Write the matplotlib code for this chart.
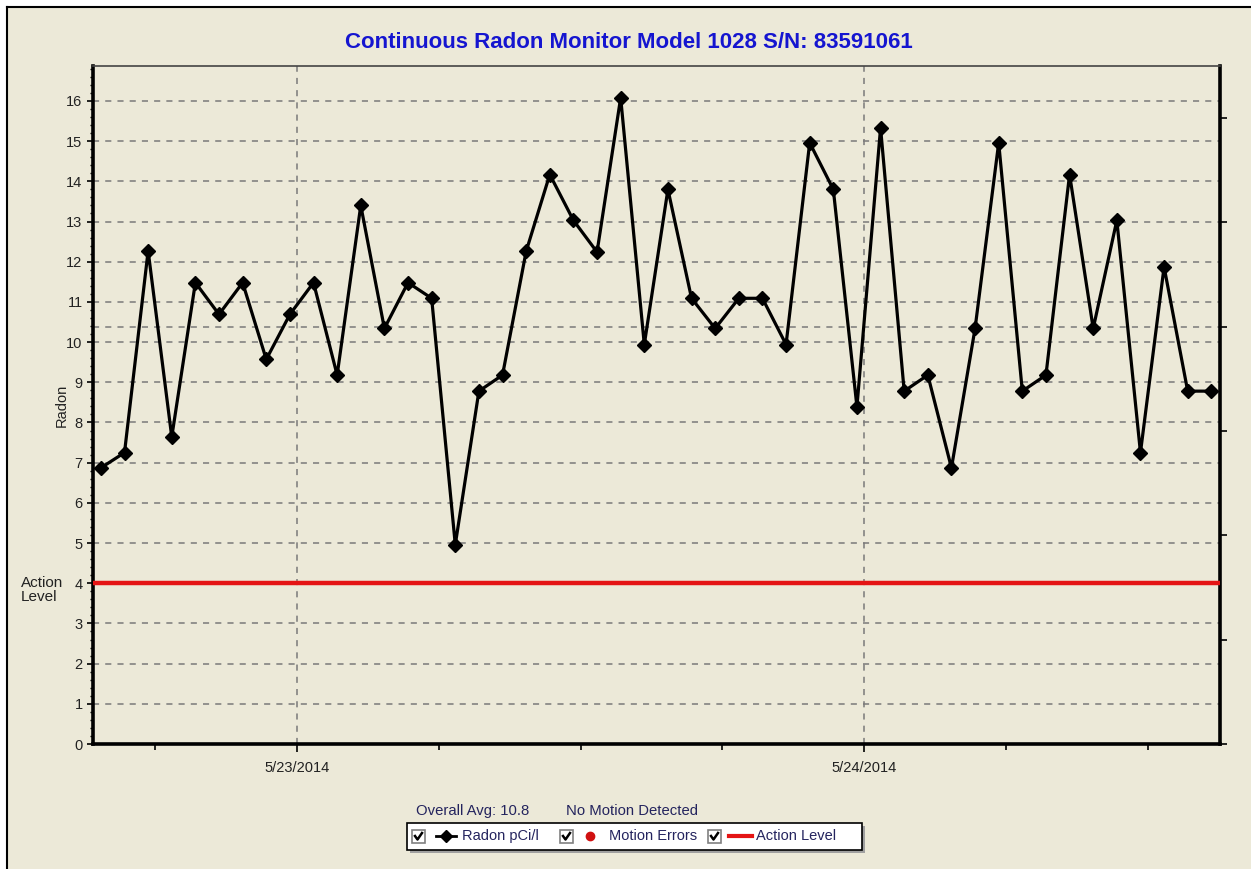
import numpy as np
import pandas as pd
import matplotlib
matplotlib.use("Agg")
import matplotlib.pyplot as plt
import matplotlib.dates as mdates
from matplotlib.patches import Rectangle
from matplotlib.lines import Line2D

plt.rcParams['font.family'] = ['Liberation Sans', 'DejaVu Sans']

# hourly readings, pCi/l
radon = [6.87, 7.25, 12.27, 7.64, 11.48, 10.69, 11.48, 9.57, 10.69, 11.48,
         9.18, 13.40, 10.34, 11.48, 11.09, 4.96, 8.78, 9.18, 12.26, 14.17,
         13.03, 12.24, 16.08, 9.94, 13.80, 11.09, 10.34, 11.09, 11.09, 9.94,
         14.96, 13.80, 8.39, 15.33, 8.78, 9.18, 6.87, 10.34, 14.96, 8.78,
         9.18, 14.17, 10.34, 13.03, 7.25, 11.87, 8.78, 8.78]
start_time = "2014-05-22 15:42"
times = pd.date_range(start_time, periods=len(radon), freq="h")
action_level = 4
extra_ref = 10.38
overall_avg = "Overall Avg: 10.8"
motion_note = "No Motion Detected"
title = "Continuous Radon Monitor Model 1028 S/N: 83591061"

W, H = 1251, 869
BG = "#ECE9D8"
fig = plt.figure(figsize=(W / 100, H / 100), dpi=100, facecolor=BG)


def fx(x):
    return x / W


def fy(y):
    return 1 - y / H


# white margin outside the frame, then frame lines
fig.patches.append(Rectangle((0, 0), fx(7), 1, transform=fig.transFigure,
                             facecolor="white", edgecolor="none", zorder=-5))
fig.patches.append(Rectangle((0, fy(7)), 1, 1 - fy(7), transform=fig.transFigure,
                             facecolor="white", edgecolor="none", zorder=-5))
fig.lines.append(Line2D([fx(7), fx(7)], [0, fy(7)], transform=fig.transFigure, color="black", lw=1.5))
fig.lines.append(Line2D([fx(7), 1], [fy(7), fy(7)], transform=fig.transFigure, color="black", lw=1.5))

ax = fig.add_axes([fx(93), fy(744), fx(1220) - fx(93), fy(66) - fy(744)])
ax.set_facecolor(BG)

ax.plot(times, radon, color="black", lw=2.3, marker="D", markersize=7.5, zorder=5)
ax.axhline(action_level, color="#E41414", lw=3.2, zorder=4)
ax.axhline(extra_ref, color="#7a7a7a", lw=1.1, ls=(0, (4, 4)), zorder=1)

ax.set_ylim(0, 16.87)
ax.set_xlim(pd.Timestamp("2014-05-22 15:22"), pd.Timestamp("2014-05-24 15:04"))
ax.set_yticks(range(0, 17))
ax.yaxis.set_minor_locator(matplotlib.ticker.MultipleLocator(0.2))
ax.xaxis.set_major_locator(mdates.DayLocator())
ax.xaxis.set_major_formatter(matplotlib.ticker.FuncFormatter(
    lambda v, p: "{d.month}/{d.day}/{d.year}".format(d=mdates.num2date(v))))
ax.xaxis.set_minor_locator(mdates.HourLocator(byhour=[6, 12, 18]))

ax.grid(True, which="major", color="#7a7a7a", lw=1.1, ls=(0, (4, 4)))
ax.tick_params(axis="both", which="major", labelsize=10.5, labelcolor="#222222", length=4, width=1.2)
ax.tick_params(axis="y", which="minor", length=2.5, width=1)
ax.tick_params(axis="x", which="minor", length=4, width=1.2)
ax.tick_params(axis="x", which="major", length=6, pad=6)

for s in ["left", "bottom", "right"]:
    ax.spines[s].set_linewidth(2.6)
ax.spines["top"].set_linewidth(1.2)
ax.spines["top"].set_color("#444444")

ax.set_ylabel("Radon", fontsize=10.5, color="#222222", labelpad=-2)

# secondary axis, ticks only
ax2 = ax.twinx()
ax2.set_ylim(0, 6.5)
ax2.set_yticks(range(0, 7))
ax2.set_yticklabels([])
ax2.tick_params(axis="y", length=5, width=1.2)
for s in ax2.spines.values():
    s.set_visible(False)

fig.text(fx(629), fy(42), title, ha="center", va="center", fontsize=16,
         fontweight="bold", color="#1515D0")
fig.text(fx(21), fy(590), "Action\nLevel", ha="left", va="center", fontsize=11,
         color="#222222", linespacing=0.95)

# legend area
navy = "#24245E"
fig.text(fx(416), fy(811), overall_avg, ha="left", va="center", fontsize=10.7, color=navy)
fig.text(fx(566), fy(811), motion_note, ha="left", va="center", fontsize=10.7, color=navy)

fig.patches.append(Rectangle((fx(410), fy(853)), fx(455), fy(823) - fy(850), transform=fig.transFigure,
                             facecolor="#A0A0A0", edgecolor="none", zorder=1))
fig.patches.append(Rectangle((fx(407), fy(850)), fx(455), fy(823) - fy(850), transform=fig.transFigure,
                             facecolor="white", edgecolor="black", lw=1.2, zorder=2))

ly = 836


def checkbox(x0):
    fig.patches.append(Rectangle((fx(x0), fy(ly + 7)), fx(13), fy(ly - 6) - fy(ly + 7),
                                 transform=fig.transFigure, facecolor="white",
                                 edgecolor="#808080", lw=1.2, zorder=3))
    fig.lines.append(Line2D([fx(x0 + 3), fx(x0 + 5.5), fx(x0 + 10)],
                            [fy(ly), fy(ly + 3.5), fy(ly - 3)], transform=fig.transFigure,
                            color="black", lw=1.8, zorder=4))


checkbox(412)
fig.lines.append(Line2D([fx(436), fx(456)], [fy(ly), fy(ly)], transform=fig.transFigure,
                        color="black", lw=2, zorder=4))
fig.lines.append(Line2D([fx(446)], [fy(ly)], transform=fig.transFigure, color="black",
                        marker="D", markersize=6, zorder=5))
fig.text(fx(462), fy(ly), "Radon pCi/l", ha="left", va="center", fontsize=10.5, color=navy, zorder=5)

checkbox(560)
fig.lines.append(Line2D([fx(590)], [fy(ly)], transform=fig.transFigure, color="#D01010",
                        marker="o", markersize=6, zorder=5))
fig.text(fx(609), fy(ly), "Motion Errors", ha="left", va="center", fontsize=10.5, color=navy, zorder=5)

checkbox(708)
fig.lines.append(Line2D([fx(729), fx(752)], [fy(ly), fy(ly)], transform=fig.transFigure,
                        color="#E41414", lw=3, zorder=4))
fig.text(fx(756), fy(ly), "Action Level", ha="left", va="center", fontsize=10.5, color=navy, zorder=5)

fig.savefig("out.png", dpi=100, facecolor=fig.get_facecolor())
